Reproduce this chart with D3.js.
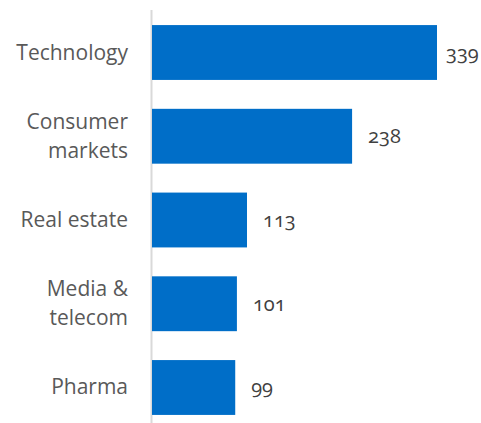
<!DOCTYPE html>
<html>
<head>
<meta charset="utf-8">
<script src="https://cdn.jsdelivr.net/npm/d3@7"></script>
<style>
  body { margin: 0; background: white; }
  text { font-family: "Open Sans", "Noto Sans", sans-serif; }
</style>
</head>
<body>
<div id="chart"></div>
<script>
// data
const sectors = ["Technology", "Consumer markets", "Real estate", "Media & telecom", "Pharma"];
const sectorLines = [["Technology"], ["Consumer", "markets"], ["Real estate"], ["Media &", "telecom"], ["Pharma"]];
const counts = [339, 238, 113, 101, 99];

let width = 481,
    height = 423;

let margin = { top: 10, bottom: -7, left: 152, right: 0 };

let svg = d3.select('#chart')
  .append('svg')
  .attr('width', width)
  .attr('height', height)
  .style('background', 'white');

// y: one band per sector
let yScale = d3.scaleBand()
  .domain(sectors)
  .range([margin.top, height - margin.bottom])
  .paddingInner(0.345)
  .paddingOuter(0.18);

// x: value to bar length
let xScale = d3.scaleLinear()
  .domain([0, 339])
  .range([margin.left, 437]);

// vertical axis line
svg.append('line')
  .attr('x1', margin.left - 0.5)
  .attr('x2', margin.left - 0.5)
  .attr('y1', margin.top)
  .attr('y2', height)
  .attr('stroke', '#d9d9d9')
  .attr('stroke-width', 2);

// bars
svg.selectAll('rect.bar')
  .data(counts)
  .enter()
  .append('rect')
  .attr('class', 'bar')
  .attr('x', xScale(0))
  .attr('y', (d, i) => yScale(sectors[i]))
  .attr('width', d => xScale(d) - xScale(0))
  .attr('height', yScale.bandwidth())
  .attr('fill', '#006ec8');

// value labels
svg.selectAll('text.value')
  .data(counts)
  .enter()
  .append('text')
  .attr('class', 'value')
  .attr('x', d => Math.min(xScale(d) + 16, width - 35))
  .attr('y', (d, i) => yScale(sectors[i]) + yScale.bandwidth() / 2 + 7)
  .style('font-size', '20px')
  .style('font-variant-numeric', 'oldstyle-nums')
  .style('fill', '#404040')
  .text(d => d);

// category labels
sectorLines.forEach((lines, i) => {
  let cy = yScale(sectors[i]) + yScale.bandwidth() / 2;
  let t = svg.append('text')
    .attr('x', 128)
    .attr('text-anchor', 'end')
    .style('font-size', '21px')
    .style('fill', '#595959');
  lines.forEach((s, j) => {
    t.append('tspan')
      .attr('x', 128)
      .attr('y', cy + 7 + (j - (lines.length - 1) / 2) * 29)
      .text(s);
  });
});
</script>
</body>
</html>
